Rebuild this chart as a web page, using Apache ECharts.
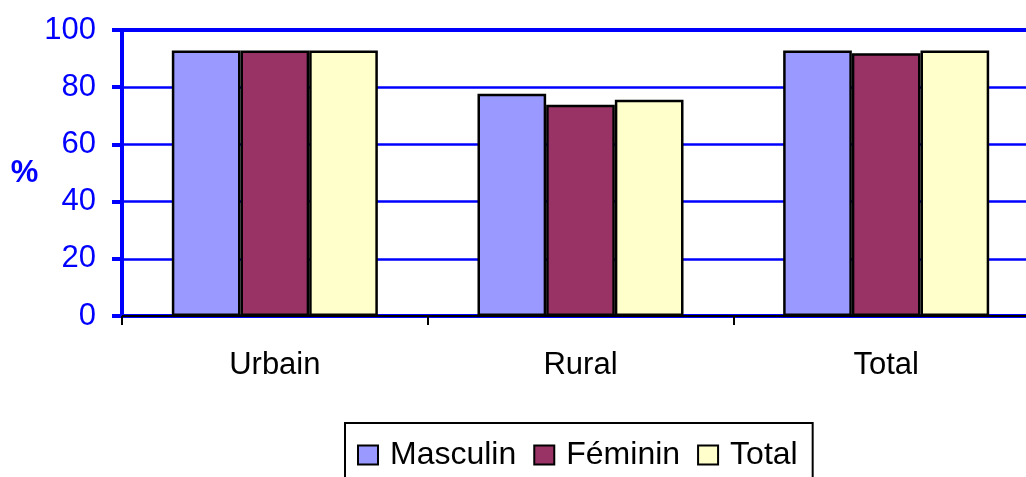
<!DOCTYPE html>
<html>
<head>
<meta charset="utf-8">
<script src="https://cdn.jsdelivr.net/npm/echarts@6/dist/echarts.min.js"></script>
<style>
  html, body { margin: 0; padding: 0; background: #fff; }
  #chart { width: 1026px; height: 477px; }
</style>
</head>
<body>
<div id="chart"></div>
<script>
var categories = ["Urbain", "Rural", "Total"];
var masculin = [92.8, 77.7, 92.8];
var feminin = [92.8, 73.9, 91.9];
var total = [92.8, 75.6, 92.8];
var yTicks = [0, 20, 40, 60, 80, 100];

var blue = "#0000ff";
var font = "Liberation Sans, Arial, sans-serif";

var chart = echarts.init(document.getElementById("chart"));

function barSeries(name, data, color) {
    return {
        name: name,
        type: "bar",
        data: data,
        barGap: "0%",
        barCategoryGap: "32.6%",
        itemStyle: { color: color, borderColor: "#000", borderWidth: 2.5 }
    };
}

var option = {
    animation: false,
    textStyle: { fontFamily: font },
    grid: {
        left: 122, top: 30, right: -13, bottom: 161,
        show: true, borderColor: blue, borderWidth: 4,
        outerBoundsMode: "none"
    },
    xAxis: {
        type: "category",
        data: categories,
        offset: 2,
        axisLine: { lineStyle: { color: "#000", width: 2 } },
        axisTick: { show: true, length: 9, lineStyle: { color: "#000", width: 2 } },
        axisLabel: { color: "#000", fontSize: 31, fontFamily: font, margin: 32 }
    },
    yAxis: {
        type: "value",
        min: yTicks[0],
        max: yTicks[yTicks.length - 1],
        interval: 20,
        name: "%",
        nameLocation: "middle",
        nameRotate: 0,
        nameGap: 78,
        nameTextStyle: { color: blue, fontSize: 31, fontWeight: "bold", fontFamily: font, align: "right" },
        axisLine: { show: true, lineStyle: { color: blue, width: 4 } },
        axisTick: { show: true, length: 10, lineStyle: { color: blue, width: 4 } },
        axisLabel: { color: blue, fontSize: 31, fontFamily: font, margin: 26 },
        splitLine: { lineStyle: { color: blue, width: 2.5 } }
    },
    legend: {
        left: 345,
        top: 423,
        orient: "horizontal",
        borderColor: "#000",
        borderWidth: 2,
        padding: [16, 15, 30, 12],
        itemWidth: 20,
        itemHeight: 19,
        itemGap: 17,
        icon: "rect",
        textStyle: { color: "#000", fontSize: 32, fontFamily: font, padding: [0, 0, 0, 7] },
        data: ["Masculin", "Féminin", "Total"]
    },
    series: [
        barSeries("Masculin", masculin, "#9999ff"),
        barSeries("Féminin", feminin, "#993366"),
        barSeries("Total", total, "#ffffcc")
    ]
};
chart.setOption(option);
</script>
</body>
</html>
